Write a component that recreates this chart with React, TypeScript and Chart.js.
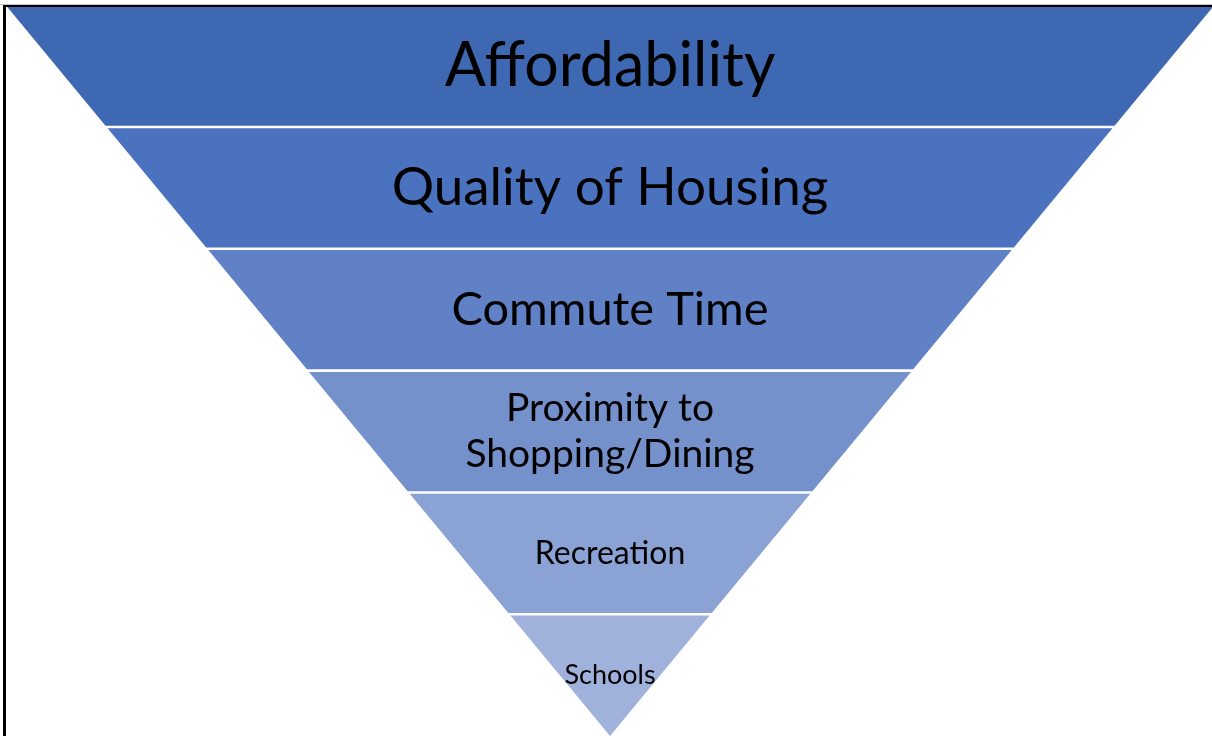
import React, { useEffect, useRef } from "react";
import { Chart, registerables } from "chart.js";

Chart.register(...registerables);

// Funnel stages, top to bottom
const categories: (string | string[])[] = [
  "Affordability",
  "Quality of Housing",
  "Commute Time",
  ["Proximity to", "Shopping/Dining"],
  "Recreation",
  "Schools",
];
// Upper level of each band (band spans level-1 .. level)
const levels = [6, 5, 4, 3, 2, 1];
const bandColors = ["#3E68B1", "#4A72BE", "#6081C6", "#7591CC", "#8BA2D4", "#A0B1DB"];
const fontSizes = [61, 53, 47, 39, 32, 27];
const GAP = 0.021;

export default function App() {
  const ref = useRef<HTMLCanvasElement>(null);
  useEffect(() => {
    if (!ref.current) return;
    const datasets = levels.map((top, i) => {
      const bottom = top - 1;
      const b = bottom > 0 ? bottom + GAP / 2 : 0;
      const t = i === 0 ? top : top - GAP / 2;
      const pts = [
        { x: -t, y: t },
        { x: t, y: t },
        { x: b, y: b },
        { x: -b, y: b },
        { x: -t, y: t },
      ];
      return {
        label: Array.isArray(categories[i]) ? (categories[i] as string[]).join(" ") : (categories[i] as string),
        data: pts,
        showLine: true,
        fill: "shape" as any,
        backgroundColor: bandColors[i],
        borderColor: bandColors[i],
        borderWidth: 0,
        pointRadius: 0,
        tension: 0,
      };
    });
    const labelPlugin = {
      id: "funnelLabels",
      afterDatasetsDraw(chart: any) {
        const { ctx, scales } = chart;
        ctx.save();
        ctx.fillStyle = "#000";
        ctx.textAlign = "center";
        ctx.textBaseline = "middle";
        categories.forEach((cat, i) => {
          const size = fontSizes[i];
          ctx.font = `${size}px Lato, "Open Sans", sans-serif`;
          const x = scales.x.getPixelForValue(0);
          const y = scales.y.getPixelForValue(levels[i] - 0.5);
          const lines = Array.isArray(cat) ? cat : [cat];
          const lh = size * 1.2;
          lines.forEach((ln, j) => {
            ctx.fillText(ln, x, y + (j - (lines.length - 1) / 2) * lh);
          });
        });
        ctx.restore();
      },
    };
    const chart = new Chart(ref.current, {
      type: "scatter",
      data: { datasets: datasets as any },
      options: {
        animation: false,
        responsive: false,
        maintainAspectRatio: false,
        layout: { padding: 0 },
        plugins: { legend: { display: false }, tooltip: { enabled: false } },
        scales: {
          x: { type: "linear", min: -6.058, max: 5.978, display: false },
          y: { type: "linear", min: 0, max: 6.043, display: false },
        },
      },
      plugins: [labelPlugin],
    });
    return () => chart.destroy();
  }, []);
  return (
    <div style={{ position: "fixed", left: 0, top: 0, width: 1212, height: 736, background: "#fff", overflow: "hidden" }}>
      <canvas ref={ref} width={1212} height={736} style={{ position: "absolute", left: 0, top: 0 }} />
      <div style={{ position: "absolute", left: 0, top: 4, width: 1212, height: 1, background: "#c8c8c8" }} />
      <div
        style={{
          position: "absolute",
          left: 3,
          top: 5,
          width: 1300,
          height: 900,
          borderLeft: "3px solid #000",
          borderTop: "2px solid #000",
          boxSizing: "border-box",
        }}
      />
    </div>
  );
}
